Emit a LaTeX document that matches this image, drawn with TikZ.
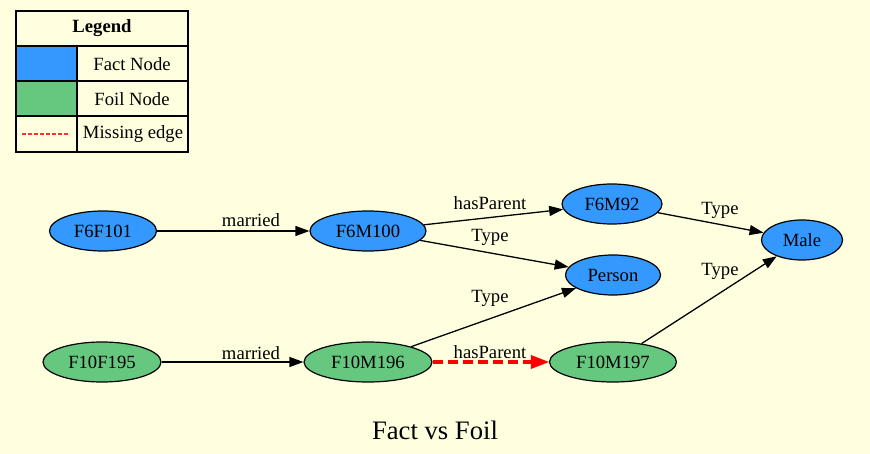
\documentclass[tikz,border=0pt]{standalone}
\usepackage{fontspec}
\setmainfont{Liberation Serif}
\usetikzlibrary{shapes.geometric,arrows.meta}
\definecolor{bgyellow}{HTML}{FFFFE0}
\definecolor{factblue}{HTML}{3399FF}
\definecolor{foilgreen}{HTML}{66C77F}
\definecolor{legendred}{HTML}{FF3030}
\tikzset{
  gnode/.style={ellipse,draw=black,line width=1.2pt,inner sep=0pt,minimum height=40pt,font=\fontsize{18.67}{21}\selectfont},
  fact/.style={gnode,fill=factblue},
  foil/.style={gnode,fill=foilgreen},
  edge/.style={draw=black,line width=1.3pt,-{Triangle[length=14pt,width=10pt]}},
  missing/.style={draw=red,line width=3.5pt,dash pattern=on 10pt off 5pt,-{Triangle[length=18pt,width=14pt,line width=0pt]}},
  elabel/.style={font=\fontsize{18.67}{21}\selectfont,inner sep=0pt},
  cell/.style={draw=black,line width=1.2pt},
  ltext/.style={font=\fontsize{18.67}{21}\selectfont,inner sep=0pt}
}
\begin{document}
\begin{tikzpicture}[x=1pt,y=-1pt]
\fill[bgyellow] (0,0) rectangle (870,454);
\useasboundingbox (0,0) rectangle (870,454);

% legend table
\draw[cell] (16,11) rectangle (188,152);
\draw[cell] (16,46) -- (188,46);
\draw[cell] (16,81) -- (188,81);
\draw[cell] (16,116) -- (188,116);
\draw[cell] (77,46) -- (77,152);
\fill[factblue] (17,47) rectangle (76,80);
\fill[foilgreen] (17,82) rectangle (76,115);
\node[ltext,font=\fontsize{18.67}{21}\selectfont\bfseries] (lghead) at (102,28) {Legend};
\node[ltext] (lgfact) at (132,64) {Fact Node};
\node[ltext] (lgfoil) at (132,99) {Foil Node};
\node[ltext] (lgmiss) at (133,134) {Missing edge};
\coordinate (lgmissa) at (22,134);
\coordinate (lgmissb) at (70,134);
\draw[legendred,line width=1.3pt,dash pattern=on 4pt off 2pt] (lgmissa) -- (lgmissb);

% nodes
\node[fact,minimum width=107pt] (F6F101) at (103,231) {F6F101};
\node[fact,minimum width=116pt] (F6M100) at (368,231) {F6M100};
\node[fact,minimum width=100pt] (F6M92) at (612,204) {F6M92};
\node[fact,minimum width=95pt] (Person) at (613,275) {Person};
\node[fact,minimum width=81pt] (Male) at (802,240) {Male};
\node[foil,minimum width=118pt] (F10F195) at (102,362) {F10F195};
\node[foil,minimum width=128pt] (F10M196) at (368,362) {F10M196};
\node[foil,minimum width=127pt] (F10M197) at (613,362) {F10M197};

% edges
\draw[edge] (F6F101) -- (F6M100);
\draw[edge] (F6M100) -- (F6M92);
\draw[edge] (F6M100) -- (Person);
\draw[edge] (F6M92) -- (Male);
\draw[edge] (F10F195) -- (F10M196);
\draw[edge] (F10M196) -- (Person);
\draw[edge] (F10M197) -- (Male);
\draw[missing] (F10M196) -- (F10M197);

% edge labels
\node[elabel] (l1) at (251,220) {married};
\node[elabel] (l2) at (490,203) {hasParent};
\node[elabel] (l3) at (490,237) {Type};
\node[elabel] (l4) at (720,210) {Type};
\node[elabel] (l5) at (490,298) {Type};
\node[elabel] (l6) at (720,271) {Type};
\node[elabel] (l7) at (251,353) {married};
\node[elabel] (l8) at (490,352) {hasParent};

% title
\node[font=\fontsize{26.67}{31}\selectfont,inner sep=0pt] (title) at (435,430) {Fact vs Foil};
\end{tikzpicture}
\end{document}
